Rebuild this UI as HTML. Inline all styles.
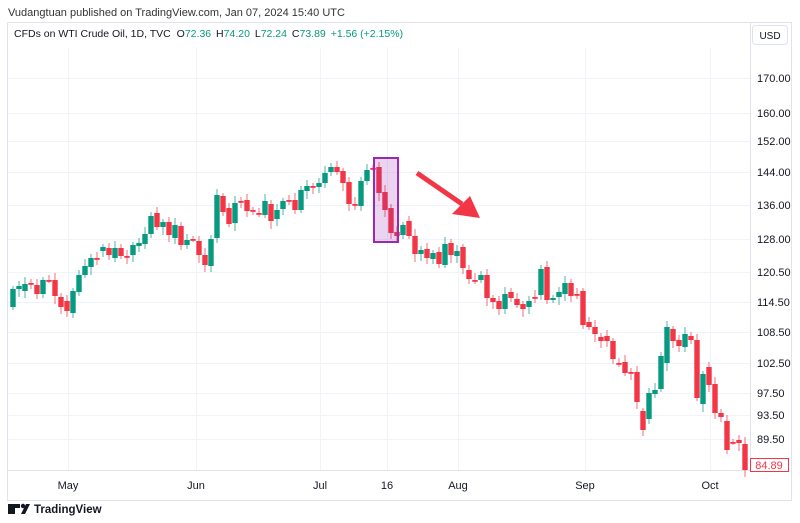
<!DOCTYPE html>
<html><head><meta charset="utf-8"><style>
html,body{margin:0;padding:0;background:#fff;}
svg{display:block;font-family:"Liberation Sans",sans-serif;}
</style></head><body>
<svg id="s" width="800" height="523" viewBox="0 0 800 523" xmlns="http://www.w3.org/2000/svg">
<rect width="800" height="523" fill="#fff"/>
<text x="8" y="16" font-size="11" fill="#333">Vudangtuan published on TradingView.com, Jan 07, 2024 15:40 UTC</text>
<rect x="7.5" y="22.5" width="784" height="478" fill="none" stroke="#e0e3eb"/>
<g id="grid" stroke="#f0f3fa" stroke-width="1"></g>
<line x1="750.5" y1="23" x2="750.5" y2="470" stroke="#e0e3eb"/>
<line x1="8" y1="470.5" x2="750" y2="470.5" stroke="#e0e3eb"/>
<text x="14" y="37" font-size="10.5" fill="#131722">CFDs on WTI Crude Oil, 1D, TVC  <tspan dx="3" fill="#131722">O</tspan><tspan fill="#089981">72.36</tspan> <tspan dx="2" fill="#131722">H</tspan><tspan fill="#089981">74.20</tspan> <tspan dx="2" fill="#131722">L</tspan><tspan fill="#089981">72.24</tspan> <tspan dx="2" fill="#131722">C</tspan><tspan fill="#089981">73.89</tspan> <tspan dx="2" fill="#089981">+1.56 (+2.15%)</tspan></text>
<rect x="752.5" y="25.5" width="35" height="19" rx="3" fill="#fff" stroke="#e0e3eb"/>
<text x="770" y="39" font-size="10" fill="#131722" text-anchor="middle">USD</text>
<g id="labels" font-size="11" fill="#131722"></g>
<g id="candles"></g>
<rect x="374" y="158" width="24" height="84" fill="rgba(156,39,176,0.2)" stroke="#9c27b0" stroke-width="2"/>
<line x1="417" y1="173" x2="462" y2="204" stroke="#f23645" stroke-width="5"/>
<polygon points="452,214 470,196 480,218" fill="#f23645"/>
<rect x="750.5" y="458.5" width="38" height="13" fill="#fff" stroke="#f23645"/>
<text x="769" y="469" font-size="11" fill="#f23645" text-anchor="middle">84.89</text>
<g font-size="11" fill="#131722" text-anchor="middle">
<text x="68" y="489">May</text><text x="196" y="489">Jun</text><text x="320" y="489">Jul</text><text x="387" y="489">16</text><text x="458" y="489">Aug</text><text x="585" y="489">Sep</text><text x="710" y="489">Oct</text>
</g>
<g transform="translate(8,502)"><rect x="0" y="2" width="7" height="10" fill="#131722"/><rect x="4" y="2" width="8" height="4" fill="#131722"/><circle cx="15" cy="4" r="2.2" fill="#131722"/><polygon points="13,12 18,2 22,2 17,12" fill="#131722"/></g>
<text x="34" y="513" font-size="11.5" font-weight="bold" fill="#131722">TradingView</text>
</svg>
<script>
var NS="http://www.w3.org/2000/svg";
function el(p,t,a){var e=document.createElementNS(NS,t);for(var k in a)e.setAttribute(k,a[k]);p.appendChild(e);return e;}
var g=document.getElementById('grid'),L=document.getElementById('labels');
var lv=[[180,46],[170,78],[160,113],[152,141],[144,172],[136,205],[128,239],[120.5,272],[114.5,302],[108.5,332],[102.5,363],[97.5,393],[93.5,415],[89.5,439]];
lv.forEach(function(v){if(v[1]>48){el(g,'line',{x1:8,x2:750,y1:v[1]+.5,y2:v[1]+.5});var t=el(L,'text',{x:757,y:v[1]+4});t.textContent=v[0].toFixed(2);}});
[68,196,320,387,458,585,710].forEach(function(x){el(g,'line',{x1:x+.5,x2:x+.5,y1:48,y2:470});});
var d=[[307,289],[289,286],[291,284],[283,283],[285,294],[294,280],[280,280],[280,296],[297,307],[301,311],[313,291],[292,275],[275,266],[267,258],[258,258],[251,247],[248,255],[258,248],[248,256],[256,256],[255,245],[246,243],[244,234],[234,216],[213,227],[227,222],[222,235],[238,225],[226,245],[245,240],[239,239],[241,255],[255,265],[266,239],[238,195],[196,212],[208,224],[223,203],[201,201],[200,211],[210,210],[213,213],[215,201],[204,221],[219,210],[209,201],[200,200],[200,210],[210,190],[191,186],[186,187],[187,183],[183,173],[172,167],[167,172],[171,183],[182,204],[204,204],[206,181],[181,170],[168,168],[167,193],[192,210],[208,233],[232,236],[235,225],[221,236],[236,254],[254,250],[249,258],[259,253],[252,264],[265,244],[243,255],[256,251],[247,268],[270,279],[280,280],[280,275],[275,298],[298,302],[301,309],[309,294],[292,298],[299,305],[304,309],[307,301],[297,297],[295,269],[267,300],[300,298],[297,292],[294,283],[283,296],[294,294],[291,325],[322,327],[327,334],[337,341],[336,341],[341,359],[363,363],[362,373],[372,372],[372,402],[411,430],[419,393],[394,390],[389,356],[363,327],[329,341],[340,346],[347,334],[336,340],[340,398],[404,374],[367,385],[384,413],[413,417],[421,450],[442,442],[440,443],[444,470]];
var C=document.getElementById('candles');
d.forEach(function(c,i){var x=13+i*6.0;var o=c[0],cl=c[1];var up=cl<o;var col=up?'#089981':'#f23645';
var top=Math.min(o,cl),bot=Math.max(o,cl);var hw=3+((i*7)%5),lw=3+((i*5)%6);
el(C,'line',{x1:x,x2:x,y1:top-hw,y2:bot+lw,stroke:col,'stroke-opacity':0.6,'stroke-width':1.2});
el(C,'rect',{x:x-2.7,y:top,width:5.4,height:Math.max(bot-top,1.8),fill:col});});
</script>
</body></html>
